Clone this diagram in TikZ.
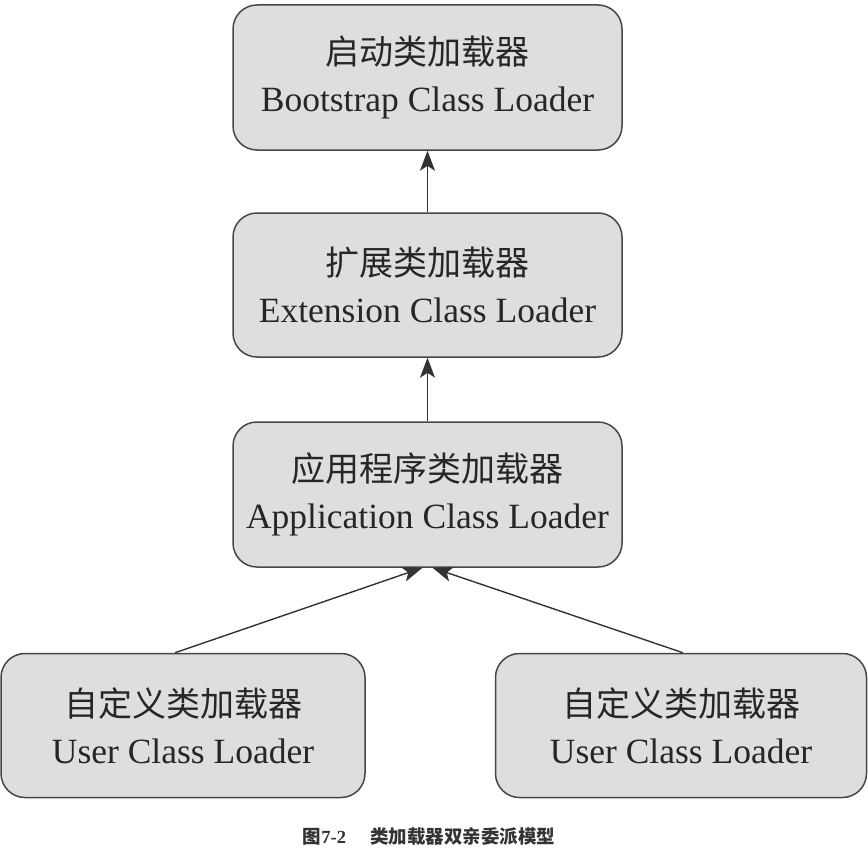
\documentclass[tikz,border=0pt]{standalone}
\usepackage{fontspec}
\setmainfont{Liberation Serif}
\newfontfamily\cjk{Noto Sans CJK SC}
\usetikzlibrary{arrows.meta,calc}
\definecolor{boxfill}{RGB}{221,223,223}
\definecolor{boxline}{RGB}{70,70,70}
\tikzset{
  loader/.style={draw=boxline, line width=1.5pt, fill=boxfill, rounded corners=24pt,
    align=center, inner sep=0pt, text=black!85,
    font=\fontsize{35.5}{47}\selectfont},
  link/.style={draw=black!80, line width=1.4pt, -{Stealth[length=20pt,width=15pt,inset=5pt]}}
}
\begin{document}
\begin{tikzpicture}[x=1pt,y=-1pt]
\useasboundingbox (0,0) rectangle (868,851);
\node[loader, minimum width=389pt, minimum height=145pt] (boot) at (427.5,77.5)
  {{\cjk\fontsize{34}{47}\selectfont 启动类加载器}\\Bootstrap Class Loader};
\node[loader, minimum width=389pt, minimum height=144pt] (ext) at (427.5,285)
  {{\cjk\fontsize{34}{47}\selectfont 扩展类加载器}\\Extension Class Loader};
\node[loader, minimum width=389pt, minimum height=145pt] (app) at (427.5,494.5)
  {{\cjk\fontsize{34}{47}\selectfont 应用程序类加载器}\\Application Class Loader};
\node[loader, minimum width=364pt, minimum height=144pt] (userA) at (183,725.5)
  {{\cjk\fontsize{34}{47}\selectfont 自定义类加载器}\\User Class Loader};
\node[loader, minimum width=371pt, minimum height=144pt] (userB) at (681,725.5)
  {{\cjk\fontsize{34}{47}\selectfont 自定义类加载器}\\User Class Loader};
\draw[link] (ext.north) -- (boot.south);
\draw[link] (app.north) -- (ext.south);
\draw[link] ($(userA.north)+(-8,0)$) -- ($(app.south)+(-5,0)$);
\draw[link] ($(userB.north)+(2,0)$) -- ($(app.south)+(5,0)$);
\node[font=\fontsize{18.5}{20}\selectfont, text=black!80] (cap) at (429,837)
  {{\cjk\bfseries 图}\textbf{7-2}\hspace{24pt}{\cjk\bfseries 类加载器双亲委派模型}};
\end{tikzpicture}
\end{document}
